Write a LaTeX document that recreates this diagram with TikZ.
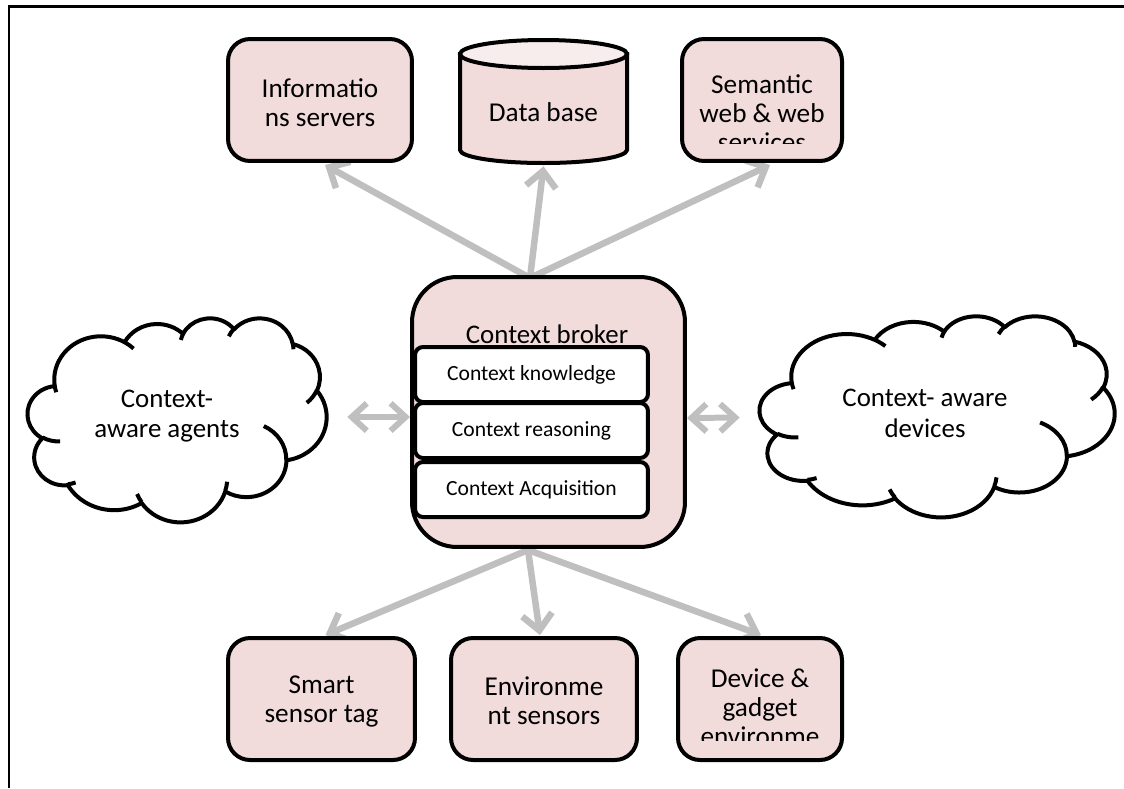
\documentclass[tikz,border=0pt]{standalone}
\usepackage{fontspec}
\setmainfont{Carlito}
\usetikzlibrary{arrows.meta,calc}
\definecolor{boxpink}{HTML}{F2DCDB}
\definecolor{toppink}{HTML}{F8EDED}
\definecolor{arrowgrey}{HTML}{BFBFBF}
% convert a DrawingML arc (visual angles) into TikZ parametric angles
\newcommand\oset[5]{%
  \pgfmathsetmacro\tmpS{atan2(#2*sin(#4), #3*cos(#4))}%
  \pgfmathsetmacro\tmpE{atan2(#2*sin(#4+#5), #3*cos(#4+#5))}%
  \pgfmathsetmacro\tmpD{\tmpE-\tmpS}%
  \pgfmathsetmacro\tmpD{ifthenelse(#5>0, ifthenelse(\tmpD<0,\tmpD+360,\tmpD), ifthenelse(\tmpD>0,\tmpD-360,\tmpD))}%
  \expandafter\let\csname oS#1\endcsname\tmpS
  \expandafter\let\csname oD#1\endcsname\tmpD
}
\oset{a}{67.53}{91.90}{-190.48748}{123.78053}
\oset{b}{53.33}{72.67}{-144.10238}{89.94523}
\oset{c}{43.65}{59.45}{-145.80792}{99.72302}
\oset{d}{48.57}{65.95}{-130.98607}{117.24173}
\oset{e}{53.33}{72.73}{-78.70888}{109.02692}
\oset{f}{67.75}{92.20}{-46.26725}{130.269}
\oset{g}{57.85}{78.67}{0.62502}{114.03333}
\oset{h}{67.52}{92.15}{22.4516}{115.17255}
\oset{i}{77.20}{105.43}{66.24263}{75.71102}
\oset{j}{43.60}{59.18}{-274.94208}{146.73557}
\oset{k}{43.45}{59.45}{-246.8285}{152.51885}
\oset{l}{43.45}{59.45}{86.742}{26.4295}
\oset{m}{43.60}{59.18}{73.61047}{11.44747}
\oset{n}{67.52}{92.15}{137.62415}{14.0811}
\oset{o}{67.52}{92.15}{6.45327}{15.99835}
\oset{p}{57.85}{78.67}{-70.29235}{70.91737}
\oset{q}{53.33}{72.73}{30.31803}{27.7515}
\oset{r}{48.57}{65.95}{-13.74433}{14.8589}
\oset{s}{48.57}{65.95}{-149.18145}{18.19537}
\oset{t}{43.65}{59.45}{-163.49427}{17.68635}
\oset{u}{67.53}{91.90}{-66.70695}{12.31935}
\oset{v}{67.53}{91.90}{157.65435}{11.85817}
\newcommand\officecloud{%
  \draw[cloudline, fill=white] (39,143.7)
    arc[start angle=\oSa, delta angle=\oDa, x radius=67.53, y radius=91.90]
    arc[start angle=\oSb, delta angle=\oDb, x radius=53.33, y radius=72.67]
    arc[start angle=\oSc, delta angle=\oDc, x radius=43.65, y radius=59.45]
    arc[start angle=\oSd, delta angle=\oDd, x radius=48.57, y radius=65.95]
    arc[start angle=\oSe, delta angle=\oDe, x radius=53.33, y radius=72.73]
    arc[start angle=\oSf, delta angle=\oDf, x radius=67.75, y radius=92.20]
    arc[start angle=\oSg, delta angle=\oDg, x radius=57.85, y radius=78.67]
    arc[start angle=\oSh, delta angle=\oDh, x radius=67.52, y radius=92.15]
    arc[start angle=\oSi, delta angle=\oDi, x radius=77.20, y radius=105.43]
    arc[start angle=\oSj, delta angle=\oDj, x radius=43.60, y radius=59.18]
    arc[start angle=\oSk, delta angle=\oDk, x radius=43.45, y radius=59.45]
    -- cycle;
  \draw[cloudline]
    (46.93,261.77) arc[start angle=\oSl, delta angle=\oDl, x radius=43.45, y radius=59.45]
    (69.28,348.99) arc[start angle=\oSm, delta angle=\oDm, x radius=43.60, y radius=59.18]
    (164.78,390.90) arc[start angle=\oSn, delta angle=\oDn, x radius=67.52, y radius=92.15]
    (288.27,347.51) arc[start angle=\oSo, delta angle=\oDo, x radius=67.52, y radius=92.15]
    (341.29,229.54) arc[start angle=\oSp, delta angle=\oDp, x radius=57.85, y radius=78.67]
    (417.98,153.54) arc[start angle=\oSq, delta angle=\oDq, x radius=53.33, y radius=72.73]
    (383.24,54.26) arc[start angle=\oSr, delta angle=\oDr, x radius=48.57, y radius=65.95]
    (290.78,39.52) arc[start angle=\oSs, delta angle=\oDs, x radius=48.57, y radius=65.95]
    (221.41,47.20) arc[start angle=\oSt, delta angle=\oDt, x radius=43.65, y radius=59.45]
    (140.00,51.92) arc[start angle=\oSu, delta angle=\oDu, x radius=67.53, y radius=91.90]
    (41.27,157.89) arc[start angle=\oSv, delta angle=\oDv, x radius=67.53, y radius=91.90];
}
\begin{document}
\begin{tikzpicture}[x=0.02cm,y=-0.02cm,
  box/.style={draw=black, line width=0.08cm, fill=boxpink, rounded corners=0.44cm,
    minimum height=2.44cm, align=center, inner sep=0pt,
    font=\fontsize{15.5}{16.5}\selectfont},
  innerbox/.style={draw=black, line width=0.08cm, fill=white, rounded corners=0.16cm,
    minimum width=4.66cm, minimum height=1.1cm, inner sep=0pt,
    font=\fontsize{12.3}{14}\selectfont},
  cloudline/.style={draw=black, line width=0.08cm, line join=round},
  cloudtext/.style={align=center, font=\fontsize{15.3}{17.5}\selectfont, inner sep=0pt},
  txt/.style={align=center, inner sep=0pt, font=\fontsize{15.5}{16.5}\selectfont},
  garrow/.style={draw=arrowgrey, line width=0.13cm,
    -{Straight Barb[length=0.32cm,width=0.6cm]}},
  gdouble/.style={draw=arrowgrey, line width=0.12cm,
    {Straight Barb[length=0.3cm,width=0.55cm]}-{Straight Barb[length=0.3cm,width=0.55cm]}},
  frame/.style={draw=black, line width=0.06cm}
]
\useasboundingbox (0,0) rectangle (1124,788);

% frame (top and left edges only)
\draw[frame] (9,788) -- (9,6) -- (1124,6);

% hub coordinates
\coordinate (hubtop) at (530,278);
\coordinate (hubbot) at (528,550);

% node placeholders (positions) for arrows
\node[box, minimum width=3.68cm, draw=none, fill=none] (info) at (320,100) {};
\node[minimum width=3.34cm, minimum height=2.48cm, inner sep=0pt] (db) at (543.5,102) {};
\node[box, minimum width=3.2cm, draw=none, fill=none] (sem) at (762,100) {};
\node[box, minimum width=3.74cm, draw=none, fill=none] (smart) at (321.5,699) {};
\node[box, minimum width=3.72cm, draw=none, fill=none] (env) at (544,699) {};
\node[box, minimum width=3.28cm, draw=none, fill=none] (dev) at (760,699) {};
\node[minimum width=5.98cm, minimum height=4.08cm, inner sep=0pt] (agents) at (177.5,420) {};
\node[minimum width=7.1cm, minimum height=4.02cm, inner sep=0pt] (devices) at (937.5,416.5) {};

% arrows
\draw[garrow] (hubtop) -- ($(info.south)+(5,2)$);
\draw[garrow] (hubtop) -- ($(db.south)+(0,2)$);
\draw[garrow] (hubtop) -- ($(sem.south)+(8,2)$);
\draw[garrow] (hubbot) -- ($(smart.north)+(4,-1)$);
\draw[garrow] (hubbot) -- ($(env.north)+(-4,-1)$);
\draw[garrow] (hubbot) -- ($(dev.north)+(1,-1)$);

% top boxes
\node[box, minimum width=3.68cm] (infobox) at (info) {};
\node[txt] (infotext) at (320,103) {Informatio\\ns servers};

% database cylinder
\path[draw=black, line width=0.08cm, fill=boxpink]
  (460,54) -- (460,150) arc[start angle=180, end angle=0, x radius=83.5, y radius=13]
  -- (627,54) -- cycle;
\path[draw=black, line width=0.08cm, fill=toppink]
  (543.5,54) ellipse[x radius=83.5, y radius=14];
\node[txt] (dbtext) at (543.5,112) {Data base};

\node[box, minimum width=3.2cm] (sembox) at (sem) {};
\begin{scope}
  \clip (682,40) rectangle (842,143);
  \node[txt] (semtext) at (762,113) {Semantic\\web \& web\\services};
\end{scope}

% broker
\node[draw=black, line width=0.08cm, fill=boxpink, rounded corners=0.9cm,
  minimum width=5.46cm, minimum height=5.4cm, inner sep=0pt] (broker) at (548.5,412) {};
\node[cloudtext] (brokertitle) at (547,334) {Context broker};
\node[innerbox] (know) at (531.5,374.5) {Context knowledge};
\node[innerbox] (reason) at (531.5,430.5) {Context reasoning};
\node[innerbox] (acq) at (531.5,489.5) {Context Acquisition};

% clouds (Office cloud outline)
\begin{scope}[shift={(agents.north west)}, x=0.01384cm, y=-0.00944cm]
  \officecloud
\end{scope}
\node[cloudtext] (agentstext) at (167,416) {Context-\\aware agents};
\begin{scope}[shift={(devices.north west)}, x=0.016435cm, y=-0.009306cm]
  \officecloud
\end{scope}
\node[cloudtext] (devicestext) at (925,413) {Context- aware\\devices};

% double arrows
\draw[gdouble] ($(agents.east)+(20,-3)$) -- (broker.west |- 0,417);
\draw[gdouble] (broker.east |- 0,418) -- ($(devices.west)+(-20,1)$);

% bottom boxes
\node[box, minimum width=3.74cm] (smartbox) at (smart) {};
\node[txt] (smarttext) at (321.5,701) {Smart\\sensor tag};
\node[box, minimum width=3.72cm] (envbox) at (env) {};
\node[txt] (envtext) at (544,701) {Environme\\nt sensors};
\node[box, minimum width=3.28cm] (devbox) at (dev) {};
\begin{scope}
  \clip (678,640) rectangle (842,740);
  \node[txt] (devtext) at (760,707) {Device \&\\gadget\\environme};
\end{scope}
\end{tikzpicture}
\end{document}
